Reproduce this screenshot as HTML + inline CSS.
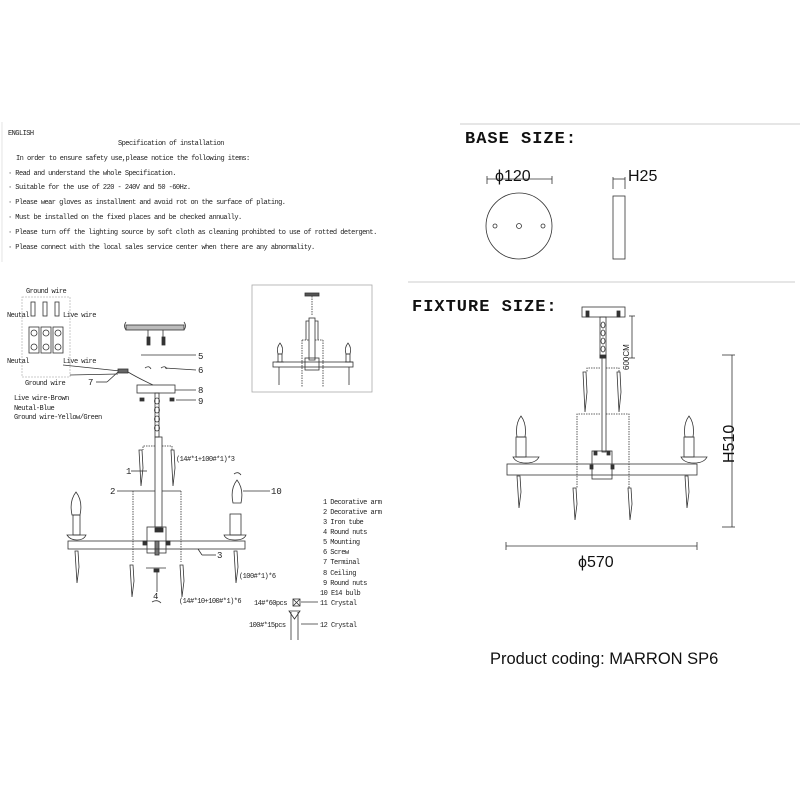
<!DOCTYPE html>
<html><head><meta charset="utf-8"><style>
html,body{margin:0;padding:0;background:#fff;width:800px;height:800px;overflow:hidden}
svg{display:block}
.s{font-family:"Liberation Mono","Noto Sans CJK SC",monospace;font-size:7px;letter-spacing:-0.55px;fill:#222}
.l{font-family:"Liberation Mono","Noto Sans CJK SC",monospace;font-size:9px;fill:#222}
.h{font-family:"Liberation Mono",monospace;font-size:17px;fill:#111;letter-spacing:1px;font-weight:bold}
.d{font-family:"Liberation Sans",sans-serif;font-size:16px;fill:#111}
</style></head><body>
<svg width="800" height="800" viewBox="0 0 800 800" xmlns="http://www.w3.org/2000/svg" fill="none" stroke="#333" stroke-width="0.8">
<line x1="2" y1="122" x2="2" y2="262" stroke="#ddd"/>
<g stroke="none">
<text class="s" x="8" y="135">ENGLISH</text>
<text class="s" x="118" y="145">Specification of installation</text>
<text class="s" x="16" y="160">In order to ensure safety use,please notice the following items:</text>
<text class="s" x="8" y="175">·  Read and understand the whole Specification.</text>
<text class="s" x="8" y="189">·  Suitable for the use of 220 - 240V and 50 -60Hz.</text>
<text class="s" x="8" y="204">·  Please wear gloves as installment and avoid rot on the surface of plating.</text>
<text class="s" x="8" y="219">· Must be installed on the fixed places and be checked annually.</text>
<text class="s" x="8" y="234">·  Please turn off the lighting source by soft cloth as cleaning prohibted to use of rotted detergent.</text>
<text class="s" x="8" y="249">·  Please connect with the local sales service center when there are any abnormality.</text>
</g>
<line x1="460" y1="124" x2="800" y2="124" stroke="#bbb"/>
<text class="h" x="465" y="143" stroke="none">BASE SIZE:</text>
<text class="d" x="495" y="181" stroke="none" font-size="17">ϕ120</text>
<line x1="487" y1="179" x2="552" y2="179"/><line x1="487" y1="176" x2="487" y2="184"/><line x1="552" y1="176" x2="552" y2="184"/>
<circle cx="519" cy="226" r="33"/>
<circle cx="495" cy="226" r="2"/><circle cx="519" cy="226" r="2.5"/><circle cx="543" cy="226" r="2"/>
<text class="d" x="628" y="181" stroke="none" font-size="17">H25</text>
<line x1="613" y1="179" x2="625" y2="179"/><line x1="613" y1="177" x2="613" y2="189"/><line x1="625" y1="177" x2="625" y2="189"/>
<rect x="613" y="196" width="12" height="63"/>
<line x1="408" y1="282" x2="795" y2="282" stroke="#bbb"/>
<text class="h" x="412" y="311" stroke="none">FIXTURE SIZE:</text>
<rect x="582" y="307" width="43" height="10"/>
<rect x="586" y="311" width="3" height="6" fill="#333"/><rect x="617" y="311" width="3" height="6" fill="#333"/>
<rect x="600" y="317" width="6" height="41"/>
<ellipse cx="603" cy="325" rx="2" ry="3"/><ellipse cx="603" cy="333" rx="2" ry="3"/><ellipse cx="603" cy="341" rx="2" ry="3"/><ellipse cx="603" cy="349" rx="2" ry="3"/>
<rect x="600" y="355" width="6" height="3" fill="#333"/>
<line x1="632" y1="316" x2="632" y2="358"/><line x1="629" y1="316" x2="635" y2="316"/><line x1="629" y1="358" x2="635" y2="358"/>
<text stroke="none" transform="translate(629,370) rotate(-90)" font-family="Liberation Sans" font-size="8" fill="#222">600CM</text>
<rect x="602" y="358" width="4" height="94"/>
<path d="M600 368 H587 V372 M606 368 H619 V372" stroke-dasharray="1.5 1"/>
<path d="M583 372 l3 0 l1 20 l-2 20 l-1 -20z M617 372 l3 0 l1 20 l-2 20 l-1 -20z"/>
<path d="M600 414 H577 V488 M606 414 H629 V488" stroke-dasharray="1.5 1"/>
<rect x="592" y="451" width="20" height="28"/>
<rect x="594" y="451" width="3" height="4" fill="#333"/><rect x="607" y="451" width="3" height="4" fill="#333"/>
<rect x="590" y="465" width="3" height="4" fill="#333"/><rect x="611" y="465" width="3" height="4" fill="#333"/>
<rect x="507" y="464" width="190" height="11"/>
<path d="M513 457 h26 q-3 6 -13 6 q-10 0 -13 -6z M681 457 h26 q-3 6 -13 6 q-10 0 -13 -6z"/>
<rect x="516" y="437" width="10" height="20"/><rect x="684" y="437" width="10" height="20"/>
<path d="M521 416 q6 8 4 21 h-8 q-2 -13 4 -21z M689 416 q6 8 4 21 h-8 q-2 -13 4 -21z"/>
<path d="M517 476 l3 0 l1 16 l-2 16 l-1 -16z M685 476 l3 0 l1 16 l-2 16 l-1 -16z M573 488 l3 0 l1 16 l-2 16 l-1 -16z M628 488 l3 0 l1 16 l-2 16 l-1 -16z"/>
<line x1="732" y1="355" x2="732" y2="527"/><line x1="722" y1="355" x2="735" y2="355"/><line x1="722" y1="527" x2="735" y2="527"/>
<text class="d" stroke="none" font-size="20" transform="translate(734,463) rotate(-90)">H510</text>
<text class="d" stroke="none" font-size="20" x="578" y="567">ϕ570</text>
<line x1="506" y1="546" x2="697" y2="546"/><line x1="506" y1="542" x2="506" y2="550"/><line x1="697" y1="542" x2="697" y2="550"/>
<text stroke="none" x="490" y="664" font-family="Liberation Sans" font-size="16.5" fill="#111">Product coding: MARRON SP6</text>
<g stroke="none">
<text class="s" x="26" y="293">Ground wire</text>
<text class="s" x="7" y="317">Neutal</text><text class="s" x="63" y="317">Live wire</text>
<text class="s" x="7" y="363">Neutal</text><text class="s" x="63" y="363">Live wire</text>
<text class="s" x="25" y="385">Ground wire</text>
<text class="s" x="14" y="400">Live wire-Brown</text>
<text class="s" x="14" y="410">Neutal-Blue</text>
<text class="s" x="14" y="419">Ground wire-Yellow/Green</text>
</g>
<rect x="22" y="297" width="48" height="80" stroke="#bbb" stroke-dasharray="2 1"/>
<rect x="31" y="302" width="4" height="14"/><rect x="43" y="302" width="4" height="14"/><rect x="55" y="302" width="4" height="14"/>
<rect x="29" y="327" width="10" height="26"/><rect x="41" y="327" width="10" height="26"/><rect x="53" y="327" width="10" height="26"/>
<circle cx="34" cy="333" r="3"/><circle cx="34" cy="347" r="3"/><circle cx="46" cy="333" r="3"/><circle cx="46" cy="347" r="3"/><circle cx="58" cy="333" r="3"/><circle cx="58" cy="347" r="3"/>
<line x1="63" y1="365" x2="120" y2="371"/><line x1="70" y1="375" x2="118" y2="374"/>
<path d="M126 322 q-3 4 0 8 M184 322 q3 4 0 8"/>
<rect x="126" y="325" width="58" height="5" fill="#bbb"/>
<line x1="148" y1="330" x2="148" y2="345"/><line x1="163" y1="330" x2="163" y2="345"/>
<rect x="147" y="337" width="3" height="8" fill="#333"/><rect x="162" y="337" width="3" height="8" fill="#333"/>
<line x1="141" y1="355" x2="196" y2="355"/><line x1="165" y1="368" x2="196" y2="370"/>
<path d="M145 368 q4 -3 6 1 M161 368 q4 -3 6 1"/>
<rect x="118" y="369" width="10" height="4" fill="#666"/>
<path d="M128 372 q10 6 25 13"/>
<line x1="96" y1="382" x2="107" y2="382"/><line x1="107" y1="382" x2="118" y2="372"/>
<rect x="137" y="385" width="38" height="8"/>
<line x1="175" y1="390" x2="196" y2="390"/>
<line x1="176" y1="400" x2="196" y2="400"/>
<rect x="140" y="398" width="4" height="3" fill="#333"/><rect x="170" y="398" width="4" height="3" fill="#333"/>
<rect x="155" y="393" width="4" height="44"/>
<ellipse cx="157" cy="401" rx="2.5" ry="3"/><ellipse cx="157" cy="410" rx="2.5" ry="3"/><ellipse cx="157" cy="419" rx="2.5" ry="3"/><ellipse cx="157" cy="428" rx="2.5" ry="3"/>
<rect x="155" y="437" width="7" height="90"/>
<path d="M155 446 H143 V450 M162 446 H172 V450" stroke-dasharray="1.5 1"/>
<path d="M139 450 l3 0 l1 18 l-2 18 l-1 -18z M171 450 l3 0 l1 18 l-2 18 l-1 -18z"/>
<line x1="131" y1="471" x2="147" y2="471"/>
<path d="M117 491 H155 M162 491 H181"/>
<path d="M133 491 V562 M181 491 V562" stroke-dasharray="1.5 1"/>
<path d="M130 565 l3 0 l1 16 l-2 16 l-1 -16z M180 565 l3 0 l1 16 l-2 16 l-1 -16z"/>
<rect x="147" y="527" width="19" height="26"/>
<rect x="155" y="528" width="8" height="4" fill="#333"/>
<rect x="143" y="541" width="4" height="4" fill="#333"/><rect x="166" y="541" width="4" height="4" fill="#333"/>
<rect x="155" y="541" width="4" height="14" fill="#777"/>
<rect x="68" y="541" width="177" height="8"/>
<line x1="198" y1="549" x2="202" y2="555"/><line x1="202" y1="555" x2="216" y2="555"/>
<path d="M67 535 h19 q-2 5 -9 5 q-7 0 -10 -5z M224 535 h22 q-2 5 -11 5 q-9 0 -11 -5z"/>
<rect x="73" y="515" width="7" height="20"/><rect x="230" y="514" width="11" height="21"/>
<path d="M76 492 q7 9 4 23 h-8 q-3 -14 4 -23z M237 480 q7 9 4 23 h-8 q-3 -14 4 -23z"/>
<line x1="243" y1="491" x2="270" y2="491"/>
<path d="M234 474 q4 -3 7 1"/>
<path d="M75 551 l3 0 l1 16 l-2 16 l-1 -16z M234 551 l3 0 l1 16 l-2 16 l-1 -16z"/>
<line x1="146" y1="568" x2="166" y2="568"/><rect x="154" y="569" width="5" height="3" fill="#333"/>
<line x1="157" y1="572" x2="157" y2="592"/>
<path d="M152 602 q5 -3 9 1"/>
<g stroke="none">
<text class="l" x="198" y="359">5</text><text class="l" x="198" y="373">6</text>
<text class="l" x="88" y="385">7</text><text class="l" x="198" y="393">8</text><text class="l" x="198" y="404">9</text>
<text class="l" x="126" y="474">1</text><text class="l" x="110" y="494">2</text><text class="l" x="217" y="558">3</text>
<text class="l" x="153" y="599">4</text><text class="l" x="271" y="494">10</text>
<text class="s" x="176" y="461">(14#*1+100#*1)*3</text>
<text class="s" x="239" y="578">(100#*1)*6</text>
<text class="s" x="179" y="603">(14#*10+100#*1)*6</text>
<text class="s" x="323" y="504">1 Decorative arm</text>
<text class="s" x="323" y="514">2 Decorative arm</text>
<text class="s" x="323" y="524">3 Iron tube</text>
<text class="s" x="323" y="534">4 Round nuts</text>
<text class="s" x="323" y="544">5 Mounting</text>
<text class="s" x="323" y="554">6 Screw</text>
<text class="s" x="323" y="564">7 Terminal</text>
<text class="s" x="323" y="575">8 Ceiling</text>
<text class="s" x="323" y="585">9 Round nuts</text>
<text class="s" x="320" y="595">10 E14 bulb</text>
<text class="s" x="320" y="605">11 Crystal</text>
<text class="s" x="320" y="627">12 Crystal</text>
<text class="s" x="254" y="605">14#*60pcs</text>
<text class="s" x="249" y="627">100#*15pcs</text>
</g>
<rect x="293" y="599" width="7" height="7"/><path d="M293 599 l7 7 M300 599 l-7 7"/>
<line x1="301" y1="602" x2="318" y2="602"/><line x1="301" y1="624" x2="318" y2="624"/>
<path d="M289 611 h11 l-5.5 8z M291 612 v28 M298 612 v28"/>
<rect x="252" y="285" width="120" height="107" stroke="#aaa"/>
<rect x="305" y="293" width="14" height="3" fill="#555"/>
<line x1="312" y1="296" x2="312" y2="315" stroke-dasharray="1.5 1"/>
<rect x="309" y="318" width="6" height="42"/>
<path d="M309 321 H306 V340 M315 321 H318 V340"/>
<path d="M302 340 H309 M315 340 H323 M302 340 V387 M323 340 V387" stroke-dasharray="1.5 1"/>
<rect x="305" y="358" width="14" height="12"/>
<rect x="273" y="362" width="80" height="5"/>
<path d="M276 362 h8 M345 362 h8"/>
<path d="M280 343 q4 5 2 11 h-4 q-2 -6 2 -11z M348 343 q4 5 2 11 h-4 q-2 -6 2 -11z"/>
<rect x="278" y="354" width="4" height="8"/><rect x="346" y="354" width="4" height="8"/>
<path d="M279 367 v18 M349 367 v18"/>
</svg>
</body></html>
